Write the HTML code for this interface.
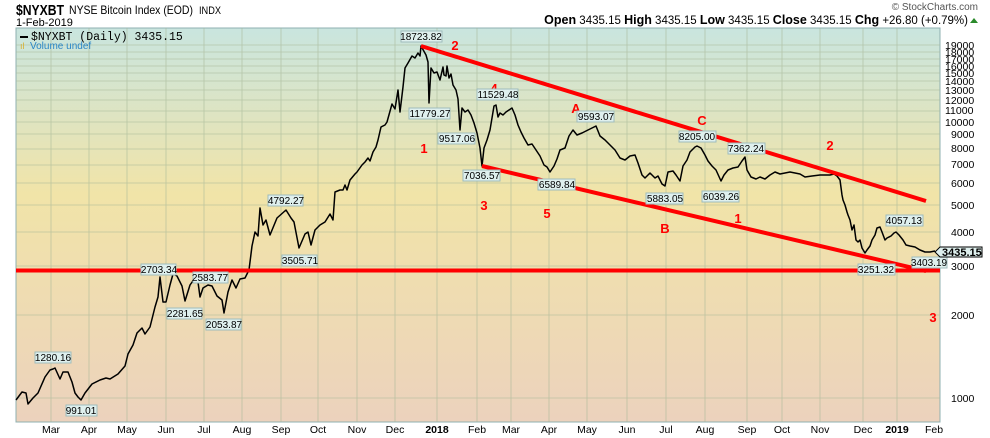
<!DOCTYPE html>
<html><head><meta charset="utf-8"><style>
body{margin:0;background:#fff;}
svg{display:block;font-family:"Liberation Sans",sans-serif;}
.b{fill:#dff0ee;stroke:#9fbcbc;stroke-width:1}
.t{font-size:10px;fill:#000}
.r{font-size:13px;font-weight:bold;fill:#f00}
.ax{font-size:10.5px;fill:#000}
</style></head><body>
<svg width="990" height="438" viewBox="0 0 990 438">
<defs>
<linearGradient id="bg" x1="0" y1="0" x2="0" y2="1">
<stop offset="0" stop-color="#c9e5df"/>
<stop offset="0.42" stop-color="#f1e4a8"/>
<stop offset="1" stop-color="#ecd2bd"/>
</linearGradient>
</defs>
<text x="16" y="15" font-size="15" font-weight="bold" textLength="48" lengthAdjust="spacingAndGlyphs">$NYXBT</text>
<text x="69" y="14" font-size="12" textLength="124" lengthAdjust="spacingAndGlyphs">NYSE Bitcoin Index (EOD)</text>
<text x="199" y="14" font-size="11" textLength="22" lengthAdjust="spacingAndGlyphs">INDX</text>
<text x="16" y="26" font-size="11">1-Feb-2019</text>
<text x="978" y="10" font-size="10" fill="#555" text-anchor="end">© StockCharts.com</text>
<text x="968" y="24" font-size="11.5" text-anchor="end"><tspan font-weight="bold" font-size="12.5">Open</tspan> 3435.15 <tspan font-weight="bold" font-size="12.5">High</tspan> 3435.15 <tspan font-weight="bold" font-size="12.5">Low</tspan> 3435.15 <tspan font-weight="bold" font-size="12.5">Close</tspan> 3435.15 <tspan font-weight="bold" font-size="12.5">Chg</tspan> +26.80 (+0.79%)</text>
<polygon points="970,23 978,23 974,18" fill="#2a8a2a"/>
<rect x="16" y="28" width="924" height="394" fill="url(#bg)" stroke="#8fb0b0"/>
<g stroke="#a8b898" stroke-width="0.8" opacity="0.7">
<line x1="16" x2="940" y1="398" y2="398"/><line x1="16" x2="940" y1="315" y2="315"/><line x1="16" x2="940" y1="266" y2="266"/>
<line x1="16" x2="940" y1="232" y2="232"/><line x1="16" x2="940" y1="205" y2="205"/><line x1="16" x2="940" y1="183" y2="183"/>
<line x1="16" x2="940" y1="165" y2="165"/><line x1="16" x2="940" y1="149" y2="149"/><line x1="16" x2="940" y1="134" y2="134"/>
<line x1="16" x2="940" y1="122" y2="122"/><line x1="16" x2="940" y1="111" y2="111"/><line x1="16" x2="940" y1="100" y2="100"/>
<line x1="16" x2="940" y1="90" y2="90"/><line x1="16" x2="940" y1="81" y2="81"/><line x1="16" x2="940" y1="73" y2="73"/>
<line x1="16" x2="940" y1="66" y2="66"/><line x1="16" x2="940" y1="59" y2="59"/><line x1="16" x2="940" y1="52" y2="52"/><line x1="16" x2="940" y1="45" y2="45"/>
<line y1="28" y2="422" x1="51" x2="51"/><line y1="28" y2="422" x1="89" x2="89"/><line y1="28" y2="422" x1="127" x2="127"/>
<line y1="28" y2="422" x1="166" x2="166"/><line y1="28" y2="422" x1="204" x2="204"/><line y1="28" y2="422" x1="242" x2="242"/>
<line y1="28" y2="422" x1="281" x2="281"/><line y1="28" y2="422" x1="318" x2="318"/><line y1="28" y2="422" x1="357" x2="357"/>
<line y1="28" y2="422" x1="395" x2="395"/><line y1="28" y2="422" x1="437" x2="437"/><line y1="28" y2="422" x1="477" x2="477"/>
<line y1="28" y2="422" x1="511" x2="511"/><line y1="28" y2="422" x1="549" x2="549"/><line y1="28" y2="422" x1="587" x2="587"/>
<line y1="28" y2="422" x1="627" x2="627"/><line y1="28" y2="422" x1="666" x2="666"/><line y1="28" y2="422" x1="705" x2="705"/>
<line y1="28" y2="422" x1="747" x2="747"/><line y1="28" y2="422" x1="782" x2="782"/><line y1="28" y2="422" x1="820" x2="820"/>
<line y1="28" y2="422" x1="863" x2="863"/><line y1="28" y2="422" x1="897" x2="897"/>
</g>
<g class="ax">
<text x="945" y="49">19000</text><text x="945" y="56">18000</text><text x="945" y="63">17000</text><text x="945" y="70">16000</text>
<text x="945" y="77">15000</text><text x="945" y="85">14000</text><text x="945" y="94">13000</text><text x="945" y="104">12000</text>
<text x="945" y="114">11000</text><text x="945" y="126">10000</text><text x="951" y="138">9000</text><text x="951" y="152">8000</text>
<text x="951" y="168">7000</text><text x="951" y="187">6000</text><text x="951" y="209">5000</text><text x="951" y="236">4000</text>
<text x="951" y="270">3000</text><text x="951" y="319">2000</text><text x="951" y="402">1000</text>
</g>
<g class="ax" text-anchor="middle">
<text x="51" y="433">Mar</text><text x="89" y="433">Apr</text><text x="127" y="433">May</text><text x="166" y="433">Jun</text>
<text x="204" y="433">Jul</text><text x="242" y="433">Aug</text><text x="281" y="433">Sep</text><text x="318" y="433">Oct</text>
<text x="357" y="433">Nov</text><text x="395" y="433">Dec</text><text x="437" y="433" font-weight="bold">2018</text><text x="477" y="433">Feb</text>
<text x="511" y="433">Mar</text><text x="549" y="433">Apr</text><text x="587" y="433">May</text><text x="627" y="433">Jun</text>
<text x="666" y="433">Jul</text><text x="705" y="433">Aug</text><text x="747" y="433">Sep</text><text x="782" y="433">Oct</text>
<text x="820" y="433">Nov</text><text x="863" y="433">Dec</text><text x="897" y="433" font-weight="bold">2019</text><text x="934" y="433">Feb</text>
</g>
<line x1="20" y1="37" x2="28" y2="37" stroke="#000" stroke-width="2"/>
<text x="31" y="40" font-size="11.5" font-family="Liberation Mono,monospace">$NYXBT (Daily) 3435.15</text>
<text x="20" y="49" font-size="9" fill="#d9b030">ıl</text>
<text x="30" y="49" font-size="10" fill="#2a86c8">Volume undef</text>
<polyline fill="none" stroke="#000" stroke-width="1.5" stroke-linejoin="round" points="16,400 22,392 26,393 28,404 33,398 38,393 45,377 50,370 53,369 55,368 60,379 63,372 68,372 72,382 75,393 78,397 81,400 85,393 92,384 100,380 106,378 110,379 118,374 125,366 128,354 133,345 137,333 142,328 145,334 150,327 155,307 158,297 160,277 163,302 166,302 170,285 173,274 177,276 182,286 185,301 190,285 195,278 198,282 200,297 203,288 208,285 212,286 217,296 222,300 224,313 228,292 232,280 236,288 240,279 245,278 249,270 252,246 255,232 258,236 260,208 263,225 266,220 270,235 277,218 286,210 291,218 294,222 299,248 305,234 308,232 311,245 315,230 320,225 325,222 330,214 333,220 335,192 340,190 343,190 345,185 347,190 350,180 355,174 357,172 362,165 365,162 368,158 370,161 373,152 376,147 378,140 381,127 385,125 387,122 392,104 395,109 398,90 400,112 403,87 405,68 408,63 412,56 415,58 418,53 420,56 421,46 426,55 428,62 429,103 431,68 434,73 437,72 440,80 443,67 444,75 446,76 447,66 449,78 451,74 453,85 456,90 458,99 460,130 462,108 465,112 468,110 471,115 474,123 477,133 480,148 482,166 484,148 487,140 490,130 494,106 496,105 498,117 500,113 503,115 506,112 509,110 512,108 515,115 518,125 521,132 524,138 528,145 532,144 536,150 540,156 544,165 547,167 550,172 554,166 557,159 560,150 565,148 569,136 573,130 577,135 582,133 588,130 592,128 596,126 600,136 605,140 610,145 615,150 620,158 625,160 630,156 635,155 638,163 642,175 645,178 650,173 655,178 658,176 662,184 665,186 668,172 673,171 676,175 680,181 683,166 687,160 690,152 695,147 697,146 701,148 705,155 708,161 712,166 716,170 721,181 724,175 728,170 733,168 738,167 742,161 745,157 747,170 751,177 756,179 760,177 765,179 770,175 775,172 780,174 790,172 800,174 805,177 812,176 820,175 830,175 834,174 837,176 840,180 842,195 843,200 845,205 847,212 848,215 850,220 852,230 854,225 856,240 858,242 860,240 862,248 865,253 867,250 870,246 872,240 875,235 877,228 880,227 882,232 885,240 887,238 891,236 894,233 896,232 899,235 903,240 906,245 910,246 915,247 920,250 925,252 930,252 935,251"/>
<g stroke="#f00" stroke-width="4" stroke-linecap="butt">
<line x1="16" y1="270.5" x2="940" y2="270.5"/>
<line x1="421" y1="46" x2="926" y2="201"/>
<line x1="482" y1="166" x2="926" y2="271"/>
</g>
<g class="r" text-anchor="middle">
<text x="455" y="50">2</text><text x="424" y="153">1</text><text x="484" y="210">3</text><text x="494" y="93">4</text>
<text x="547" y="218">5</text><text x="576" y="113">A</text><text x="702" y="125">C</text><text x="665" y="233">B</text>
<text x="738" y="223">1</text><text x="830" y="150">2</text><text x="933" y="322">3</text>
</g>
<g class="t" text-anchor="middle">
<rect class="b" x="401" y="31" width="41" height="11"/><text x="421" y="40">18723.82</text>
<rect class="b" x="409" y="108" width="41" height="11"/><text x="430" y="117">11779.27</text>
<rect class="b" x="438" y="133" width="37" height="11"/><text x="457" y="142">9517.06</text>
<rect class="b" x="463" y="170" width="37" height="11"/><text x="482" y="179">7036.57</text>
<rect class="b" x="477" y="89" width="41" height="11"/><text x="498" y="98">11529.48</text>
<rect class="b" x="538" y="179" width="37" height="11"/><text x="557" y="188">6589.84</text>
<rect class="b" x="577" y="111" width="37" height="11"/><text x="596" y="120">9593.07</text>
<rect class="b" x="646" y="193" width="37" height="11"/><text x="665" y="202">5883.05</text>
<rect class="b" x="679" y="131" width="37" height="11"/><text x="697" y="140">8205.00</text>
<rect class="b" x="702" y="191" width="37" height="11"/><text x="721" y="200">6039.26</text>
<rect class="b" x="728" y="143" width="37" height="11"/><text x="746" y="152">7362.24</text>
<rect class="b" x="886" y="215" width="37" height="11"/><text x="904" y="224">4057.13</text>
<rect class="b" x="858" y="264" width="37" height="11"/><text x="876" y="273">3251.32</text>
<rect class="b" x="912" y="257" width="35" height="11"/><text x="929" y="266">3403.19</text>
<rect class="b" x="35" y="352" width="36" height="11"/><text x="53" y="361">1280.16</text>
<rect class="b" x="66" y="405" width="31" height="11"/><text x="81" y="414">991.01</text>
<rect class="b" x="141" y="264" width="35" height="11"/><text x="159" y="273">2703.34</text>
<rect class="b" x="167" y="308" width="35" height="11"/><text x="185" y="317">2281.65</text>
<rect class="b" x="193" y="272" width="35" height="11"/><text x="210" y="281">2583.77</text>
<rect class="b" x="206" y="319" width="35" height="11"/><text x="224" y="328">2053.87</text>
<rect class="b" x="268" y="195" width="35" height="11"/><text x="286" y="204">4792.27</text>
<rect class="b" x="282" y="255" width="35" height="11"/><text x="300" y="264">3505.71</text>
</g>
<polygon points="935,252 940,247 982,247 982,257 940,257" fill="#dff0ee" stroke="#000" stroke-width="1"/>
<text x="942" y="256" font-size="11" font-weight="bold">3435.15</text>
</svg>
</body></html>
